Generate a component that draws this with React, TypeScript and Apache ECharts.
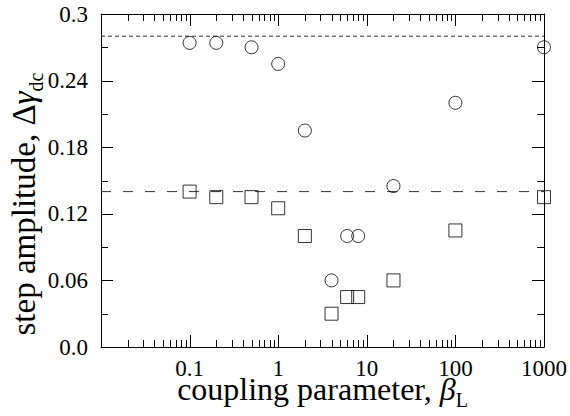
import React, { useEffect, useRef } from "react";
import * as echarts from "echarts";

// ---- data ----
const couplingParameter = [0.1, 0.2, 0.5, 1, 2, 4, 6, 8, 20, 100, 1000];
const circleAmplitude = [0.274, 0.274, 0.27, 0.255, 0.195, 0.06, 0.1, 0.1, 0.145, 0.22, 0.27];
const squareAmplitude = [0.14, 0.135, 0.135, 0.125, 0.1, 0.03, 0.045, 0.045, 0.06, 0.105, 0.135];
const upperLevel = 0.28;
const lowerLevel = 0.14;
const xRange = [0.01, 1000];
const yRange = [0, 0.3];
const yStep = 0.06;
const yMajorTicks = [0, 0.06, 0.12, 0.18, 0.24, 0.3];
const yMinorTicks = [0.03, 0.09, 0.15, 0.21, 0.27];
const xMajorTicks = [0.01, 0.1, 1, 10, 100, 1000];
const minorMultipliers = [2, 3, 4, 5, 6, 7, 8, 9];
const xTickLabels = ["0.1", "1", "10", "100", "1000"];

const FONT = "'Liberation Serif', 'Times New Roman', serif";
const X_TITLE_SIZE = 32;
const Y_TITLE_SIZE = 33;
const MAJOR_LEN = 12;
const MINOR_LEN = 7;

export default function App() {
  const ref = useRef<HTMLDivElement>(null);

  useEffect(() => {
    if (!ref.current) return;
    const chart = echarts.init(ref.current, undefined, { renderer: "svg" });

    const xMinorTicks = xMajorTicks.slice(0, -1).flatMap((d) =>
      minorMultipliers.map((m) => +(m * d).toPrecision(6))
    );

    const axisLine = { show: true, onZero: false, lineStyle: { color: "#000", width: 1 } };

    const fmtX = (v: number) => {
      const s = String(+(+v).toPrecision(6));
      return xTickLabels.includes(s) ? s : "";
    };
    const fmtY = (v: number) => {
      const r = +(+v).toFixed(2);
      return r === 0 ? "0.0" : String(r);
    };

    const xAxisDef = (position: "bottom" | "top", labels: boolean) => ({
      type: "log" as const,
      logBase: 10,
      min: xRange[0],
      max: xRange[1],
      position,
      axisLine,
      axisTick: { show: false },
      axisLabel: labels
        ? { show: true, formatter: fmtX, color: "#000", fontFamily: FONT, fontSize: 23, margin: 10 }
        : { show: false },
      splitLine: { show: false },
      minorTick: { show: false },
      minorSplitLine: { show: false },
    });

    const yAxisDef = (position: "left" | "right", labels: boolean) => ({
      type: "value" as const,
      min: yRange[0],
      max: yRange[1],
      interval: yStep,
      position,
      axisLine,
      axisTick: { show: false },
      axisLabel: labels
        ? { show: true, formatter: fmtY, color: "#000", fontFamily: FONT, fontSize: 23, margin: 13 }
        : { show: false },
      splitLine: { show: false },
      minorTick: { show: false },
      minorSplitLine: { show: false },
    });

    const xBottom: any = xAxisDef("bottom", true);
    xBottom.name = "{t|coupling parameter, }{b|β}{s|L}";
    xBottom.nameLocation = "middle";
    xBottom.nameGap = 26;
    xBottom.nameMoveOverlap = false;
    xBottom.nameTextStyle = {
      color: "#000",
      fontFamily: FONT,
      fontSize: X_TITLE_SIZE,
      rich: {
        t: { fontFamily: FONT, fontSize: X_TITLE_SIZE, color: "#000" },
        b: { fontFamily: FONT, fontSize: X_TITLE_SIZE, fontStyle: "italic", color: "#000" },
        s: { fontFamily: FONT, fontSize: 20, color: "#000", verticalAlign: "bottom", padding: [0, 0, -5, 0] },
      },
    };

    const yTitle = {
      type: "text",
      x: 24,
      y: 204,
      rotation: Math.PI / 2,
      silent: true,
      z: 100,
      style: {
        text: "{t|step amplitude, Δ}{g|γ}{s|dc}",
        align: "center",
        verticalAlign: "middle",
        fill: "#000",
        font: `${Y_TITLE_SIZE}px ${FONT}`,
        rich: {
          t: { fontFamily: FONT, fontSize: Y_TITLE_SIZE, fill: "#000" },
          g: { fontFamily: FONT, fontSize: Y_TITLE_SIZE, fontStyle: "italic", fill: "#000" },
          s: { fontFamily: FONT, fontSize: 20, fill: "#000", verticalAlign: "bottom", padding: [0, 0, -5, 0] },
        },
      },
    };

    const marker = { color: "rgba(0,0,0,0)", borderColor: "#000", borderWidth: 1 };

    chart.setOption({
      animation: false,
      backgroundColor: "#fff",
      grid: { left: 101, right: 25, top: 14, bottom: 69, containLabel: false },
      xAxis: [xBottom, xAxisDef("top", false)],
      yAxis: [yAxisDef("left", true), yAxisDef("right", false)],
      graphic: [yTitle],
      series: [
        {
          type: "line",
          data: [
            [xRange[0], upperLevel],
            [xRange[1], upperLevel],
          ],
          symbol: "none",
          lineStyle: { color: "#333", width: 1, type: [4, 3] },
          silent: true,
          z: 1,
        },
        {
          type: "line",
          data: [
            [xRange[0], lowerLevel],
            [xRange[1], lowerLevel],
          ],
          symbol: "none",
          lineStyle: { color: "#333", width: 1, type: [10, 12] },
          silent: true,
          z: 1,
        },
        {
          type: "scatter",
          data: couplingParameter.map((x, i) => [x, circleAmplitude[i]]),
          symbol: "circle",
          symbolSize: 13,
          itemStyle: marker,
          z: 3,
        },
        {
          type: "scatter",
          data: couplingParameter.map((x, i) => [x, squareAmplitude[i]]),
          symbol: "rect",
          symbolSize: 13,
          itemStyle: marker,
          z: 3,
        },
      ],
    });

    // Tick marks on all four sides, placed through the chart's own scales.
    const toPx = (x: number, y: number) =>
      chart.convertToPixel({ xAxisIndex: 0, yAxisIndex: 0 }, [x, y]) as number[];
    const tickLine = (x1: number, y1: number, x2: number, y2: number) => ({
      type: "line",
      silent: true,
      z: 100,
      shape: { x1, y1, x2, y2 },
      style: { stroke: "#000", lineWidth: 1 },
    });
    const ticks: any[] = [];
    const addY = (v: number, len: number) => {
      const l = toPx(xRange[0], v);
      const r = toPx(xRange[1], v);
      const y = Math.round(l[1]) + 0.5;
      ticks.push(tickLine(l[0], y, l[0] + len, y));
      ticks.push(tickLine(r[0] - len, y, r[0], y));
    };
    const addX = (v: number, len: number) => {
      const b = toPx(v, yRange[0]);
      const t = toPx(v, yRange[1]);
      const x = Math.round(b[0]) + 0.5;
      ticks.push(tickLine(x, b[1], x, b[1] - len));
      ticks.push(tickLine(x, t[1], x, t[1] + len));
    };
    yMajorTicks.forEach((v) => addY(v, MAJOR_LEN));
    yMinorTicks.forEach((v) => addY(v, MINOR_LEN));
    xMajorTicks.forEach((v) => addX(v, MAJOR_LEN));
    xMinorTicks.forEach((v) => addX(v, MINOR_LEN));

    chart.setOption({ graphic: [yTitle, ...ticks] });

    return () => chart.dispose();
  }, []);

  return <div ref={ref} style={{ width: 570, height: 416, position: "absolute", left: 0, top: 0 }} />;
}
